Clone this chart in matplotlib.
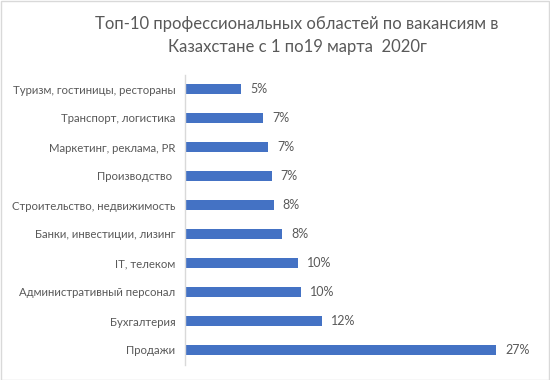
import matplotlib
matplotlib.use('Agg')
import matplotlib.pyplot as plt
from matplotlib.patches import Rectangle

# data (bottom to top)
categories = [
    'Продажи',
    'Бухгалтерия',
    'Административный персонал',
    'IT, телеком',
    'Банки, инвестиции, лизинг',
    'Строительство, недвижимость',
    'Производство ',
    'Маркетинг, реклама, PR',
    'Транспорт, логистика',
    'Туризм, гостиницы, рестораны',
]
shares = [27.0, 11.9, 10.05, 9.77, 8.4, 7.7, 7.5, 7.2, 6.76, 4.85]
share_labels = ['27%', '12%', '10%', '10%', '8%', '8%', '7%', '7%', '7%', '5%']

title = 'Топ-10 профессиональных областей по вакансиям в\nКазахстане с 1 по19 марта  2020г'

BAR_COLOR = '#4472C4'
TEXT_COLOR = '#595959'

plt.rcParams['font.family'] = ['Lato', 'DejaVu Sans']

W, H = 550, 380
fig = plt.figure(figsize=(W / 100, H / 100), dpi=100)

# plot area in pixels: x 185..531, y 74.5..364.5 (from top)
ax = fig.add_axes([185 / W, 1 - 364.5 / H, 346 / W, 290 / H])
ypos = range(len(categories))
ax.barh(ypos, shares, height=0.36, color=BAR_COLOR)
ax.set_xlim(0, 30)
ax.set_ylim(-0.5, len(categories) - 0.5)

for y, v, lab in zip(ypos, shares, share_labels):
    ax.annotate(lab, (v, y), xytext=(6.5, 0), textcoords='offset points',
                va='center', ha='left', fontsize=9, color=TEXT_COLOR)

ax.set_yticks(list(ypos))
ax.set_yticklabels(categories, fontsize=8.2, color=TEXT_COLOR)
ax.tick_params(axis='y', length=0, pad=7)
ax.set_xticks([])
for side in ['top', 'right', 'bottom']:
    ax.spines[side].set_visible(False)
ax.spines['left'].set_color('#D9D9D9')
ax.spines['left'].set_linewidth(1.0)

fig.text(297 / W, 1 - 35.5 / H, title, ha='center', va='center',
         fontsize=12, color=TEXT_COLOR, linespacing=1.6)

# light outer border
fig.patches.append(Rectangle((0.001, 0.001), 0.997, 0.997, transform=fig.transFigure,
                             fill=False, edgecolor='#D9D9D9', linewidth=1.0))

fig.savefig('out.png', dpi=100)
